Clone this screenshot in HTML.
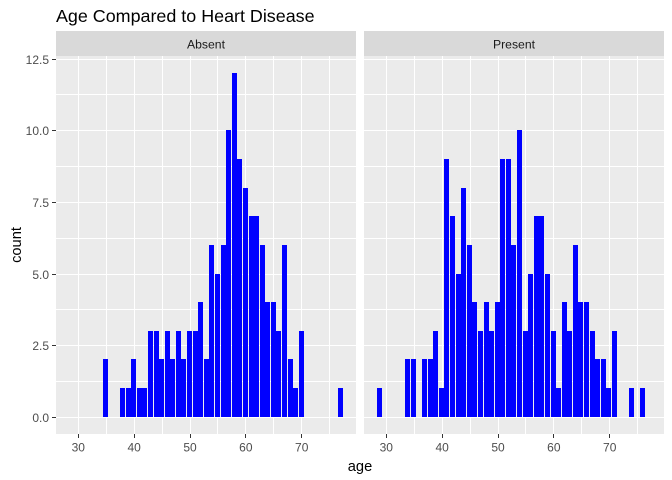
<!DOCTYPE html>
<html>
<head>
<meta charset="utf-8">
<style>
html,body{margin:0;padding:0;background:#fff;}
svg{display:block;font-family:"Liberation Sans",Arial,sans-serif;}
</style>
</head>
<body>
<svg id="chart" xmlns="http://www.w3.org/2000/svg" width="672" height="480" viewBox="0 0 672 480">
<text x="56" y="22" font-size="17.9" fill="#000">Age Compared to Heart Disease</text>
<text x="360" y="471" font-size="14.67" text-anchor="middle" fill="#000">age</text>
<text transform="translate(21,245) rotate(-90)" font-size="14.67" text-anchor="middle" fill="#000">count</text>
</svg>
<script>
const panelNames = ["Absent", "Present"];
const absentAges = [35,38,39,40,41,42,43,44,45,46,47,48,49,50,51,52,53,54,55,56,57,58,59,60,61,62,63,64,65,66,67,68,69,70,77];
const absentCounts = [2,1,1,2,1,1,3,3,2,3,2,3,2,3,3,4,2,6,5,6,10,12,9,8,7,7,6,4,4,3,6,2,1,3,1];
const presentAges = [29,34,35,37,38,39,40,41,42,43,44,45,46,47,48,49,50,51,52,53,54,55,56,57,58,59,60,61,62,63,64,65,66,67,68,69,70,71,74,76];
const presentCounts = [1,2,2,2,2,3,1,9,7,5,8,6,4,3,4,3,4,9,9,6,10,3,5,7,7,5,3,1,4,3,6,4,4,3,2,2,1,3,1,1];
const xTicks = [30,40,50,60,70];
const xMinorTicks = [35,45,55,65,75];
const yTicks = [0,2.5,5,7.5,10,12.5];
const yMinorTicks = [1.25,3.75,6.25,8.75,11.25];
const yTickLabels = ["0.0","2.5","5.0","7.5","10.0","12.5"];

const NS = "http://www.w3.org/2000/svg";
const svg = document.getElementById("chart");
const panelTop = 57, panelBottom = 434, panelWidth = 300, stripTop = 31;
const panelLefts = [56, 364];
const binShift = [-2.92, -3.3];
const xScale = (v, p) => panelLefts[p] + 22.3 + (v - 30) * 5.585;
const yScale = v => 417.3 - v * 28.66;

function add(tag, attrs, parent) {
  const el = document.createElementNS(NS, tag);
  for (const k in attrs) el.setAttribute(k, attrs[k]);
  (parent || svg).appendChild(el);
  return el;
}

function drawPanel(p, ages, counts) {
  const left = panelLefts[p], name = panelNames[p].toLowerCase();
  const g = add("g", {"shape-rendering": "crispEdges"});
  
  

  const strip = add("rect", {x: left, y: stripTop, width: panelWidth, height: panelTop - stripTop - 1, fill: "#D9D9D9"}, g);
  
  

  const bg = add("rect", {x: left, y: panelTop - 1, width: panelWidth, height: panelBottom - panelTop + 1, fill: "#EBEBEB"}, g);
  
  

  yMinorTicks.forEach(t => {
    const line = add("rect", {x: left, y: Math.floor(yScale(t)), width: panelWidth, height: 1, fill: "#fff"}, g);
    
    
  });
  xMinorTicks.forEach(t => {
    const line = add("rect", {x: Math.floor(xScale(t, p)), y: panelTop - 1, width: 1, height: panelBottom - panelTop + 1, fill: "#fff"}, g);
    
    
  });
  yTicks.forEach(t => {
    const line = add("rect", {x: left, y: Math.floor(yScale(t)), width: panelWidth, height: 1, fill: "#fff"}, g);
    
    
  });
  xTicks.forEach(t => {
    const line = add("rect", {x: Math.floor(xScale(t, p)), y: panelTop - 1, width: 1, height: panelBottom - panelTop + 1, fill: "#fff"}, g);
    
    
  });

  ages.forEach((a, i) => {
    const top = Math.floor(yScale(counts[i]));
    const bar = add("rect", {
      x: Math.round(xScale(a, p) + binShift[p]),
      y: top,
      width: 5,
      height: Math.floor(yScale(0)) - top,
      fill: "#0000FF"
    }, g);
    
    
  });

  xTicks.forEach(t => {
    const tick = add("rect", {x: Math.floor(xScale(t, p)), y: panelBottom, width: 1, height: 4, fill: "#333"}, g);
    
    
    const label = add("text", {x: xScale(t, p), y: 451.5, "font-size": 12, "text-anchor": "middle", fill: "#4D4D4D"});
    
    
    label.textContent = t;
  });

  const stripLabel = add("text", {x: left + panelWidth / 2, y: 48.5, "font-size": 12.2, "text-anchor": "middle", fill: "#1A1A1A"});
  
  
  stripLabel.textContent = panelNames[p];
}

drawPanel(0, absentAges, absentCounts);
drawPanel(1, presentAges, presentCounts);

yTicks.forEach((t, i) => {
  const y = Math.floor(yScale(t));
  const tick = add("rect", {x: 52, y: y, width: 4, height: 1, fill: "#333", "shape-rendering": "crispEdges"});
  
  
  const label = add("text", {x: 49, y: y + 5, "font-size": 12, "text-anchor": "end", fill: "#4D4D4D"});
  
  
  label.textContent = yTickLabels[i];
});
</script>
</body>
</html>
